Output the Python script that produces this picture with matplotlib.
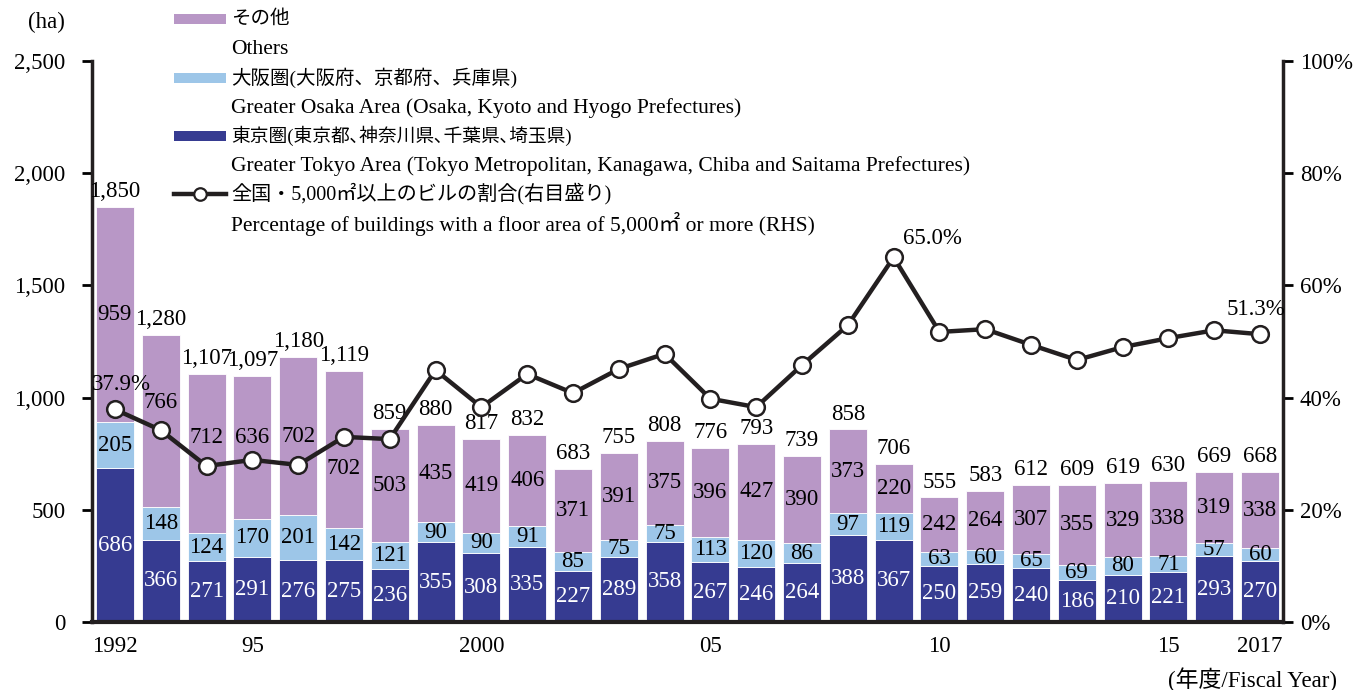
import matplotlib
matplotlib.use("Agg")
from matplotlib import pyplot as plt
from matplotlib.patches import Rectangle
from matplotlib.lines import Line2D
import numpy as np

plt.rcParams['font.family'] = ['Liberation Serif', 'Noto Sans CJK JP', 'DejaVu Sans']

# data (ha), fiscal years 1992-2017
years = list(range(1992, 2018))
tokyo = [686, 366, 271, 291, 276, 275, 236, 355, 308, 335, 227, 289, 358,
         267, 246, 264, 388, 367, 250, 259, 240, 186, 210, 221, 293, 270]
osaka = [205, 148, 124, 170, 201, 142, 121, 90, 90, 91, 85, 75, 75,
         113, 120, 86, 97, 119, 63, 60, 65, 69, 80, 71, 57, 60]
others = [959, 766, 712, 636, 702, 702, 503, 435, 419, 406, 371, 391, 375,
          396, 427, 390, 373, 220, 242, 264, 307, 355, 329, 338, 319, 338]
totals = [1850, 1280, 1107, 1097, 1180, 1119, 859, 880, 817, 832, 683, 755, 808,
          776, 793, 739, 858, 706, 555, 583, 612, 609, 619, 630, 669, 668]
share = [37.9, 34.2, 27.8, 28.9, 28.0, 33.0, 32.6, 44.9, 38.3, 44.2, 40.8, 45.1, 47.8,
         39.8, 38.3, 45.8, 52.9, 65.0, 51.7, 52.2, 49.4, 46.7, 49.0, 50.6, 52.0, 51.3]
share_labels = {1992: "37.9%", 2009: "65.0%", 2017: "51.3%"}
xtick_labels = {1992: "1992", 1995: "95", 2000: "2000", 2005: "05",
                2010: "10", 2015: "15", 2017: "2017"}

# label nudges (ha) so "others" labels clear the line
others_nudge = {1993: 80, 1994: 70, 1995: 45, 1997: -85}

C_OTHERS = "#B897C6"
C_OSAKA = "#9DC6E8"
C_TOKYO = "#363B91"
C_LINE = "#231F20"

W, H = 1353, 690
fig = plt.figure(figsize=(W / 100, H / 100), dpi=100)
ax = fig.add_axes([92 / W, 1 - 622 / H, (1283 - 92) / W, (622 - 61) / H])

x = np.arange(len(years))
tk = np.array(tokyo)
os_ = np.array(osaka)
ot = np.array(others)
bw = 0.83
ax.bar(x, tk, bw, color=C_TOKYO, edgecolor="white", linewidth=0.6)
ax.bar(x, os_, bw, bottom=tk, color=C_OSAKA, edgecolor="white", linewidth=0.6)
ax.bar(x, ot, bw, bottom=tk + os_, color=C_OTHERS, edgecolor="white", linewidth=0.6)

fs = 16.5
for i, yr in enumerate(years):
    ax.text(x[i], tk[i] / 2, str(tokyo[i]), ha="center", va="center", color="white", fontsize=fs)
    ax.text(x[i], tk[i] + os_[i] / 2, str(osaka[i]), ha="center", va="center", color="black", fontsize=fs)
    ax.text(x[i], tk[i] + os_[i] + ot[i] / 2 + others_nudge.get(yr, 0), str(others[i]),
            ha="center", va="center", color="black", fontsize=fs)
    ax.text(x[i], totals[i] + 22, f"{totals[i]:,}", ha="center", va="bottom", color="black", fontsize=fs)

ax.set_xlim(-0.5, len(years) - 0.5)
ax.set_ylim(0, 2500)
ax.set_yticks(range(0, 2501, 500))
ax.set_yticklabels([f"{v:,}" for v in range(0, 2501, 500)], fontsize=fs)
ax.set_xticks([years.index(y) for y in xtick_labels])
ax.set_xticklabels(list(xtick_labels.values()), fontsize=fs)
ax.tick_params(axis="x", length=0, pad=10)
ax.tick_params(axis="y", direction="out", length=7, width=2, pad=12)
for s in ["top", "right"]:
    ax.spines[s].set_visible(False)
ax.spines["left"].set_linewidth(2.5)
ax.spines["bottom"].set_linewidth(3)
ax.spines["left"].set_color(C_LINE)
ax.spines["bottom"].set_color(C_LINE)

ax2 = ax.twinx()
ax2.set_ylim(0, 100)
ax2.set_yticks(range(0, 101, 20))
ax2.set_yticklabels([f"{v}%" for v in range(0, 101, 20)], fontsize=fs)
ax2.tick_params(axis="y", direction="out", length=7, width=2, pad=5)
for s in ["top", "left", "bottom"]:
    ax2.spines[s].set_visible(False)
ax2.spines["right"].set_linewidth(2.5)
ax2.spines["right"].set_color(C_LINE)
ax2.plot(x, share, color=C_LINE, linewidth=3.2, marker="o", markersize=12,
         markerfacecolor="white", markeredgecolor=C_LINE, markeredgewidth=1.8, zorder=5)
for yr, lab in share_labels.items():
    i = years.index(yr)
    if yr == 2009:
        ax2.text(x[i] + 0.2, share[i] + 1.5, lab, ha="left", va="bottom", fontsize=fs)
    elif yr == 1992:
        ax2.text(x[i] + 0.15, share[i] + 2.5, lab, ha="center", va="bottom", fontsize=fs)
    else:
        ax2.text(x[i] - 0.1, share[i] + 2.5, lab, ha="center", va="bottom", fontsize=fs)

# axis titles
fig.text(46 / W, 1 - 22 / H, "(ha)", ha="center", va="center", fontsize=fs)
fig.text(1337 / W, 1 - 680 / H, "(年度/Fiscal Year)", ha="right", va="center", fontsize=fs)

# legend drawn in figure pixels
def fx(px):
    return px / W

def fy(py):
    return 1 - py / H

entries = [
    ("patch", C_OTHERS, "その他", "Others", 19, 14),
    ("patch", C_OSAKA, "大阪圏(大阪府、京都府、兵庫県)",
     "Greater Osaka Area (Osaka, Kyoto and Hyogo Prefectures)", 78, 14),
    ("patch", C_TOKYO, "東京圏(東京都､神奈川県､千葉県､埼玉県)",
     "Greater Tokyo Area (Tokyo Metropolitan, Kanagawa, Chiba and Saitama Prefectures)", 136, 13.5),
    ("line", C_LINE, "全国・5,000㎡以上のビルの割合(右目盛り)",
     "Percentage of buildings with a floor area of 5,000㎡ or more (RHS)", 194, 14.5),
]
for kind, col, jp, en, py, jfs in entries:
    if kind == "patch":
        fig.patches.append(Rectangle((fx(174), fy(py + 5)), fx(226) - fx(174), fy(py - 5) - fy(py + 5),
                                     transform=fig.transFigure, facecolor=col, edgecolor="none"))
    else:
        fig.lines.append(Line2D([fx(174), fx(226)], [fy(py), fy(py)], transform=fig.transFigure,
                                color=col, linewidth=3.2))
        fig.lines.append(Line2D([fx(200)], [fy(py)], transform=fig.transFigure, marker="o",
                                markersize=9, markerfacecolor="white", markeredgecolor=col,
                                markeredgewidth=1.6))
    fig.text(fx(231), fy(py), jp, ha="left", va="center", fontsize=jfs)
    fig.text(fx(231), fy(py + 30), en, ha="left", va="center", fontsize=15.5)

fig.savefig("out.png", dpi=100)
